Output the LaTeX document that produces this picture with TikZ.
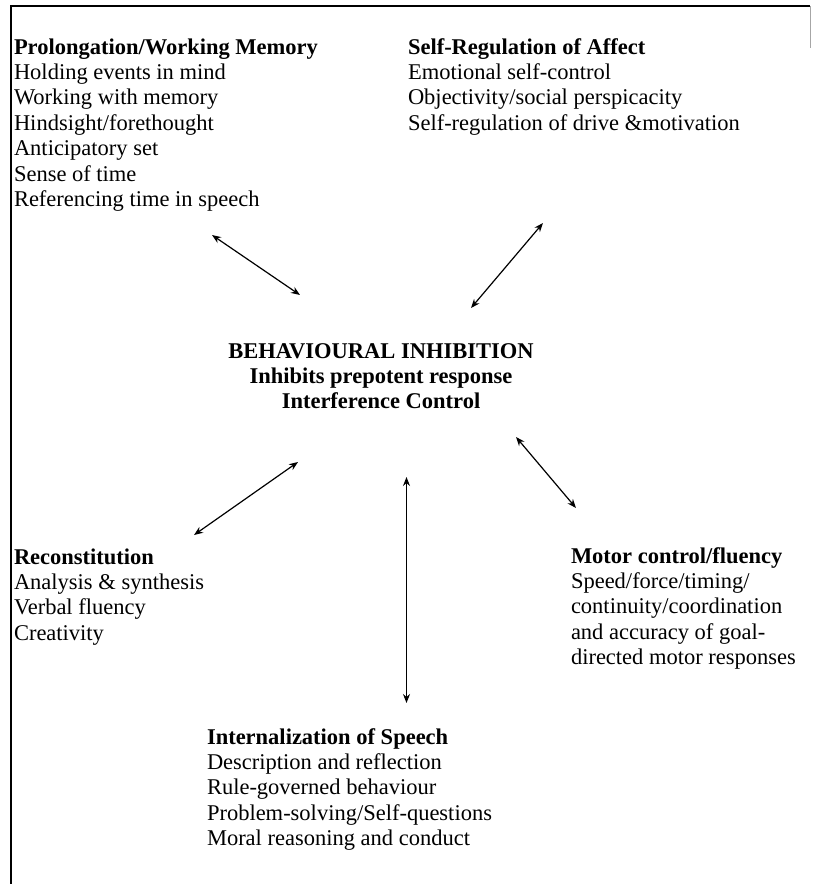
\documentclass[tikz,border=0pt]{standalone}
\usepackage{fontspec}
\setmainfont{Liberation Serif}
\usetikzlibrary{arrows.meta}
\tikzset{
  blk/.style={inner sep=0pt, outer sep=0pt, font=\fontsize{22.5}{25.4}\selectfont},
  link/.style={line width=1.2pt, {Stealth[length=9pt,width=7pt]}-{Stealth[length=9pt,width=7pt]}},
  frame/.style={line width=1.4pt, black}
}
\begin{document}
\begin{tikzpicture}[x=1pt,y=-1pt]
\useasboundingbox (0,0) rectangle (812,884);
\draw[frame] (11,884) -- (11,6) -- (810,6);
\draw[line width=1pt, black!35] (810.5,6) -- (810.5,48);

\node[blk, anchor=base west] (pwm) at (14,54) {\begin{tabular}[t]{@{}l@{}}\textbf{Prolongation/Working Memory}\\
Holding events in mind\\ Working with memory\\ Hindsight/forethought\\ Anticipatory set\\ Sense of time\\ Referencing time in speech\end{tabular}};

\node[blk, anchor=base west] (sra) at (408,54) {\begin{tabular}[t]{@{}l@{}}\textbf{Self-Regulation of Affect}\\
Emotional self-control\\ Objectivity/social perspicacity\\ Self-regulation of drive \&motivation\end{tabular}};

\node[blk, anchor=base] (bi) at (381,358) {\begin{tabular}[t]{@{}c@{}}\textbf{BEHAVIOURAL INHIBITION}\\
\textbf{Inhibits prepotent response}\\ \textbf{Interference Control}\end{tabular}};

\node[blk, anchor=base west] (rec) at (14,564) {\begin{tabular}[t]{@{}l@{}}\textbf{Reconstitution}\\
Analysis \& synthesis\\ Verbal fluency\\ Creativity\end{tabular}};

\node[blk, anchor=base west] (mot) at (571,563) {\begin{tabular}[t]{@{}l@{}}\textbf{Motor control/fluency}\\
Speed/force/timing/\\ continuity/coordination\\ and accuracy of goal-\\ directed motor responses\end{tabular}};

\node[blk, anchor=base west] (ios) at (207,744) {\begin{tabular}[t]{@{}l@{}}\textbf{Internalization of Speech}\\
Description and reflection\\ Rule-governed behaviour\\ Problem-solving/Self-questions\\ Moral reasoning and conduct\end{tabular}};

\coordinate (a1) at (212,235); \coordinate (b1) at (300,295);
\coordinate (a2) at (543,223); \coordinate (b2) at (471,308);
\coordinate (a3) at (298,462); \coordinate (b3) at (194,535);
\coordinate (a4) at (516,437); \coordinate (b4) at (576,508);
\coordinate (a5) at (406.5,477); \coordinate (b5) at (406.5,703);

\draw[link] (a1) -- (b1);
\draw[link] (a2) -- (b2);
\draw[link] (a3) -- (b3);
\draw[link] (a4) -- (b4);
\draw[link] (a5) -- (b5);
\end{tikzpicture}
\end{document}
